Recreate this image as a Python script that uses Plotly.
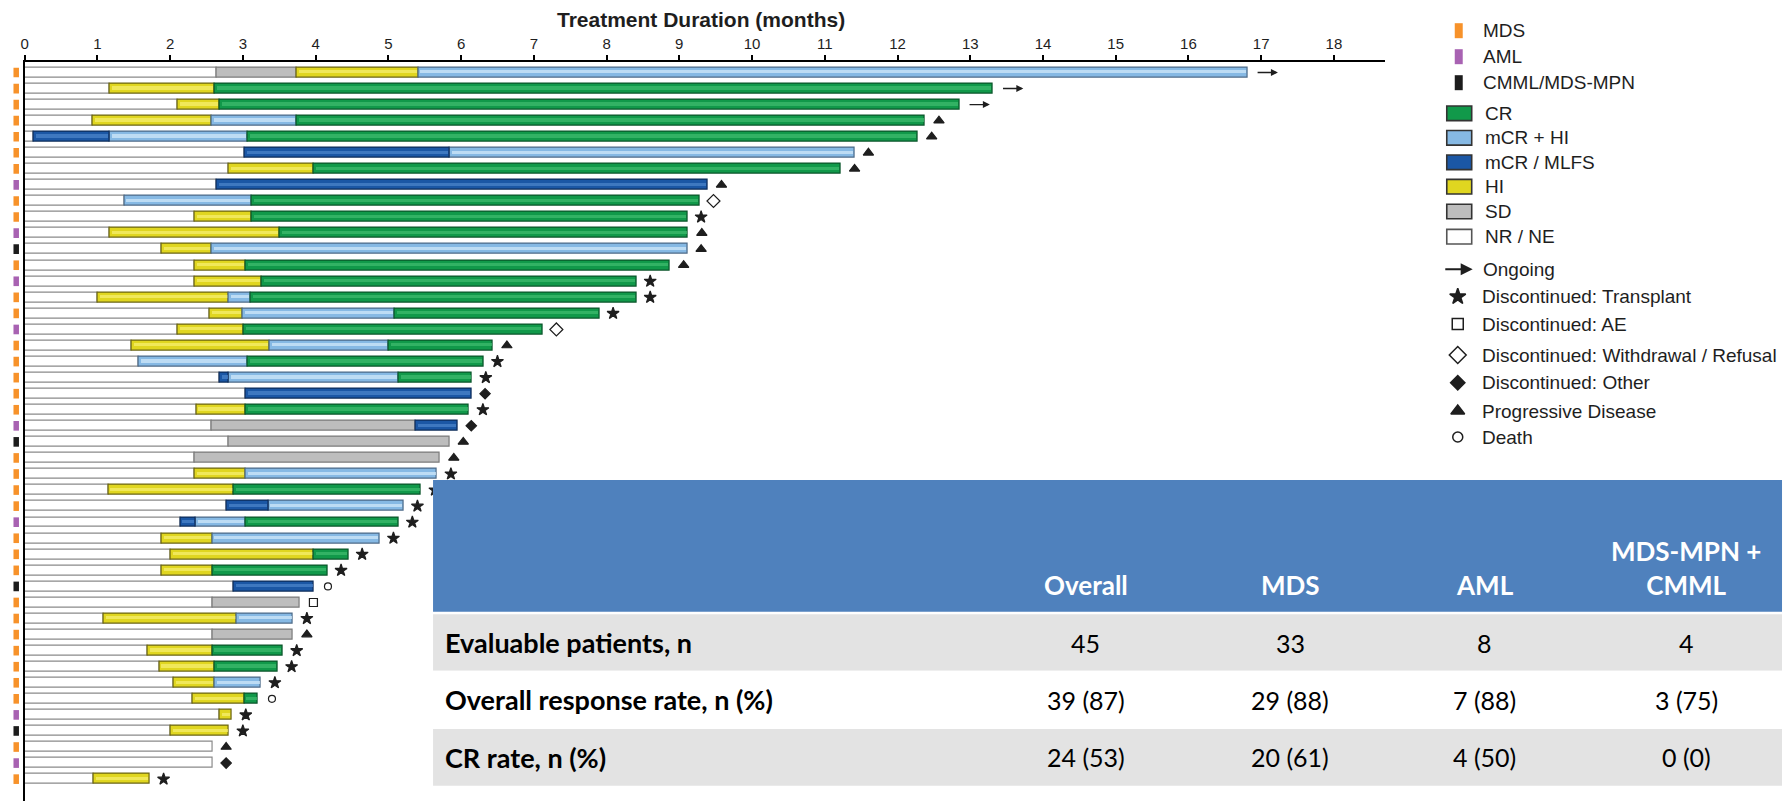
import plotly.graph_objects as go

W, H = 1791, 801

# ---------------------------------------------------------------- data
disease = [
    "MDS", "MDS", "MDS", "MDS", "MDS", "MDS", "MDS", "AML", "MDS", "MDS",
    "AML", "CMML", "MDS", "AML", "MDS", "MDS", "AML", "MDS", "MDS", "MDS",
    "MDS", "MDS", "AML", "CMML", "MDS", "MDS", "MDS", "MDS", "AML", "MDS",
    "MDS", "MDS", "CMML", "MDS", "MDS", "MDS", "MDS", "MDS", "MDS", "MDS",
    "AML", "CMML", "MDS", "AML", "MDS",
]

# response history per patient: (status, month at which that status ends)
timeline = [
    [("NR", 2.64), ("SD", 3.74), ("HI", 5.41), ("mCR+HI", 16.81)],
    [("NR", 1.17), ("HI", 2.61), ("CR", 13.31)],
    [("NR", 2.11), ("HI", 2.68), ("CR", 12.85)],
    [("NR", 0.94), ("HI", 2.57), ("mCR+HI", 3.74), ("CR", 12.38)],
    [("NR", 0.13), ("mCR/MLFS", 1.17), ("mCR+HI", 3.07), ("CR", 12.28)],
    [("NR", 3.03), ("mCR/MLFS", 5.84), ("mCR+HI", 11.41)],
    [("NR", 2.81), ("HI", 3.97), ("CR", 11.22)],
    [("NR", 2.64), ("mCR/MLFS", 9.39)],
    [("NR", 1.37), ("mCR+HI", 3.12), ("CR", 9.28)],
    [("NR", 2.34), ("HI", 3.12), ("CR", 9.11)],
    [("NR", 1.17), ("HI", 3.51), ("CR", 9.12)],
    [("NR", 1.88), ("HI", 2.57), ("mCR+HI", 9.11)],
    [("NR", 2.34), ("HI", 3.04), ("CR", 8.87)],
    [("NR", 2.34), ("HI", 3.26), ("CR", 8.41)],
    [("NR", 1.01), ("HI", 2.81), ("mCR+HI", 3.11), ("CR", 8.41)],
    [("NR", 2.54), ("HI", 3.00), ("mCR+HI", 5.09), ("CR", 7.90)],
    [("NR", 2.11), ("HI", 3.01), ("CR", 7.12)],
    [("NR", 1.47), ("HI", 3.37), ("mCR+HI", 5.00), ("CR", 6.44)],
    [("NR", 1.57), ("mCR+HI", 3.07), ("CR", 6.31)],
    [("NR", 2.68), ("mCR/MLFS", 2.81), ("mCR+HI", 5.14), ("CR", 6.15)],
    [("NR", 3.04), ("mCR/MLFS", 6.14)],
    [("NR", 2.36), ("HI", 3.04), ("CR", 6.11)],
    [("NR", 2.57), ("SD", 5.38), ("mCR/MLFS", 5.95)],
    [("NR", 2.81), ("SD", 5.84)],
    [("NR", 2.34), ("SD", 5.71)],
    [("NR", 2.34), ("HI", 3.04), ("mCR+HI", 5.67)],
    [("NR", 1.15), ("HI", 2.88), ("CR", 5.45)],
    [("NR", 2.78), ("mCR/MLFS", 3.35), ("mCR+HI", 5.21)],
    [("NR", 2.14), ("mCR/MLFS", 2.35), ("mCR+HI", 3.04), ("CR", 5.14)],
    [("NR", 1.88), ("HI", 2.58), ("mCR+HI", 4.88)],
    [("NR", 2.01), ("HI", 3.98), ("CR", 4.45)],
    [("NR", 1.88), ("HI", 2.58), ("CR", 4.16)],
    [("NR", 2.88), ("mCR/MLFS", 3.98)],
    [("NR", 2.58), ("SD", 3.78)],
    [("NR", 1.09), ("HI", 2.92), ("mCR+HI", 3.69)],
    [("NR", 2.58), ("SD", 3.69)],
    [("NR", 1.69), ("HI", 2.58), ("CR", 3.55)],
    [("NR", 1.85), ("HI", 2.61), ("CR", 3.48)],
    [("NR", 2.05), ("HI", 2.61), ("mCR+HI", 3.25)],
    [("NR", 2.31), ("HI", 3.02), ("CR", 3.21)],
    [("NR", 2.68), ("HI", 2.85)],
    [("NR", 2.01), ("HI", 2.81)],
    [("NR", 2.58)],
    [("NR", 2.58)],
    [("NR", 0.95), ("HI", 1.72)],
]

outcome = [
    "Ongoing", "Ongoing", "Ongoing", "PD", "PD", "PD", "PD", "PD", "Withdrawal", "Transplant",
    "PD", "PD", "PD", "Transplant", "Transplant", "Transplant", "Withdrawal", "PD", "Transplant", "Transplant",
    "Other", "Transplant", "Other", "PD", "PD", "Transplant", "Transplant", "Transplant", "Transplant", "Transplant",
    "Transplant", "Transplant", "Death", "AE", "Transplant", "PD", "Transplant", "Transplant", "Transplant", "Death",
    "Transplant", "Transplant", "PD", "Other", "Transplant",
]

x_ticks = list(range(0, 19))

table_columns = ["Overall", "MDS", "AML", "MDS-MPN +<br>CMML"]
table_rows = ["Evaluable patients, n", "Overall response rate, n (%)", "CR rate, n (%)"]
table_values = [
    ["45", "33", "8", "4"],
    ["39 (87)", "29 (88)", "7 (88)", "3 (75)"],
    ["24 (53)", "20 (61)", "4 (50)", "0 (0)"],
]

# ---------------------------------------------------------------- styles
DISEASE_STYLE = {
    "MDS": ("#F7922A", "MDS"),
    "AML": ("#A862B2", "AML"),
    "CMML": ("#1C1C1C", "CMML/MDS-MPN"),
}
STATUS_STYLE = {
    "CR": dict(fill="#11994A", edge="#0A552A", gloss="#3DBB6E", label="CR"),
    "mCR+HI": dict(fill="#86B9E4", edge="#4C6A88", gloss="#CFE8FA", label="mCR + HI"),
    "mCR/MLFS": dict(fill="#1B57A5", edge="#0D2C5A", gloss="#4B83C9", label="mCR / MLFS"),
    "HI": dict(fill="#E0D620", edge="#6B6512", gloss="#F5EE6E", label="HI"),
    "SD": dict(fill="#BDBDBD", edge="#7A7A7A", gloss=None, label="SD"),
    "NR": dict(fill="#FFFFFF", edge="#8A8A8A", gloss=None, label="NR / NE"),
}
OUTCOME_STYLE = {
    "Transplant": dict(symbol="star", size=9, label="Discontinued: Transplant"),
    "AE": dict(symbol="square-open", size=8, label="Discontinued: AE"),
    "Withdrawal": dict(symbol="diamond-open", size=10, label="Discontinued: Withdrawal / Refusal"),
    "Other": dict(symbol="diamond", size=8, label="Discontinued: Other"),
    "PD": dict(symbol="triangle-up", size=9, label="Progressive Disease"),
    "Death": dict(symbol="circle-open", size=7, label="Death"),
}
CHART_FONT = "Liberation Sans, Arial, sans-serif"
TABLE_FONT = "Lato, Open Sans, sans-serif"
INK = "#1E1E1E"

BAR_W = 0.62
MARK_GAP = 0.19

fig = go.Figure()

# ---------------------------------------------------------------- swimmer bars
seg = {k: dict(y=[], base=[], x=[]) for k in STATUS_STYLE}
for i, tl in enumerate(timeline):
    row = i + 1
    start = 0.0
    for status, end in tl:
        seg[status]["y"].append(row)
        seg[status]["base"].append(start)
        seg[status]["x"].append(end - start)
        start = end

for status in ["NR", "SD", "HI", "mCR+HI", "mCR/MLFS", "CR"]:
    st = STATUS_STYLE[status]
    d = seg[status]
    fig.add_trace(go.Bar(
        orientation="h", y=d["y"], x=d["x"], base=d["base"], width=BAR_W,
        marker=dict(color=st["fill"], line=dict(color=st["edge"], width=1.2)),
        showlegend=False, hoverinfo="skip",
    ))
    if st["gloss"]:
        inset = 0.025
        fig.add_trace(go.Bar(
            orientation="h", y=d["y"],
            x=[max(v - 2 * inset, 0) for v in d["x"]],
            base=[b + inset for b in d["base"]],
            width=0.2, offset=-0.16,
            marker=dict(color=st["gloss"], line=dict(width=0), opacity=0.75),
            showlegend=False, hoverinfo="skip",
        ))

# ---------------------------------------------------------------- end-of-treatment symbols
end_month = [tl[-1][1] for tl in timeline]
for key, st in OUTCOME_STYLE.items():
    rows = [i + 1 for i, o in enumerate(outcome) if o == key]
    xs = [end_month[r - 1] + MARK_GAP for r in rows]
    fig.add_trace(go.Scatter(
        x=xs, y=rows, mode="markers",
        marker=dict(symbol=st["symbol"], size=st["size"], color=INK,
                    line=dict(color=INK, width=1.2)),
        showlegend=False, hoverinfo="skip",
    ))

annotations = []
for i, o in enumerate(outcome):
    if o == "Ongoing":
        annotations.append(dict(
            x=end_month[i] + 0.42, y=i + 1, ax=end_month[i] + 0.12, ay=i + 1,
            xref="x", yref="y", axref="x", ayref="y",
            showarrow=True, arrowhead=2, arrowsize=1.0, arrowwidth=1.4,
            arrowcolor=INK, text="",
        ))

# ---------------------------------------------------------------- disease strips
shapes = []
for i, dz in enumerate(disease):
    shapes.append(dict(
        type="rect", xref="paper", yref="y",
        x0=9.5 / W, x1=15 / W, y0=i + 1 - 0.3, y1=i + 1 + 0.3,
        fillcolor=DISEASE_STYLE[dz][0], line=dict(width=0), layer="above",
    ))

# ---------------------------------------------------------------- pixel helpers (x2/y2 span the page)
def box(x0, y0, x1, y1, fill, edge=None, lw=0):
    shapes.append(dict(type="rect", xref="x2", yref="y2", x0=x0, x1=x1, y0=y0, y1=y1,
                       fillcolor=fill, line=dict(color=edge or fill, width=lw), layer="above"))


def label(x, y, text, size, color=INK, family=CHART_FONT, xanchor="left", bold=False):
    annotations.append(dict(
        x=x, y=y, xref="x2", yref="y2", text=f"<b>{text}</b>" if bold else text,
        showarrow=False, xanchor=xanchor, yanchor="middle",
        font=dict(family=family, size=size, color=color),
    ))

# title
label(699, 19, "Treatment Duration (months)", 21, bold=True, xanchor="center")

# ---------------------------------------------------------------- legend
LEG_TXT = 19
for (key, y) in zip(["MDS", "AML", "CMML"], [30.7, 56.7, 82.7]):
    col, txt = DISEASE_STYLE[key]
    box(1454, y - 7.5, 1462, y + 7.5, col)
    label(1480, y, txt, LEG_TXT)

for key, y in zip(["CR", "mCR+HI", "mCR/MLFS", "HI", "SD", "NR"],
                  [113.3, 137.8, 162.3, 186.7, 211.5, 236.7]):
    st = STATUS_STYLE[key]
    edge = "#333333" if key != "NR" else "#555555"
    box(1446, y - 7.3, 1471, y + 7.3, st["fill"], edge, 1.6)
    label(1482, y, st["label"], LEG_TXT)

annotations.append(dict(
    x=1472, y=269.3, ax=1443, ay=269.3, xref="x2", yref="y2", axref="x2", ayref="y2",
    showarrow=True, arrowhead=2, arrowsize=1.2, arrowwidth=2, arrowcolor=INK, text="",
))
label(1480, 269.3, "Ongoing", LEG_TXT)

leg_y = [296.7, 324.0, 355.0, 382.7, 411.0, 437.0]
for (key, st), y in zip(OUTCOME_STYLE.items(), leg_y):
    fig.add_trace(go.Scatter(
        x=[1457], y=[y], xaxis="x2", yaxis="y2", mode="markers",
        marker=dict(symbol=st["symbol"], size=st["size"] + 3, color=INK,
                    line=dict(color=INK, width=1.5)),
        showlegend=False, hoverinfo="skip",
    ))
    label(1479, y, st["label"], LEG_TXT)

# ---------------------------------------------------------------- summary table
TX0, TX1 = 430, 1782
box(TX0, 480, TX1, 786, "#FFFFFF")
box(TX0, 480, TX1, 611.7, "#4F81BD")
row_bands = [(614.3, 670.7), (670.7, 729.0), (729.0, 785.7)]
row_fill = ["#E3E3E3", "#FFFFFF", "#E3E3E3"]
for (y0, y1), f in zip(row_bands, row_fill):
    box(TX0, y0, TX1, y1, f)

col_x = [1084, 1289, 1484, 1686]
TBL_SIZE = 25
for cx, name in zip(col_x, table_columns):
    annotations.append(dict(
        x=cx, y=603, xref="x2", yref="y2", text=f"<b>{name}</b>",
        showarrow=False, xanchor="center", yanchor="bottom", align="center",
        font=dict(family=TABLE_FONT, size=TBL_SIZE + 1, color="#FFFFFF"),
    ))
for (y0, y1), rname, vals in zip(row_bands, table_rows, table_values):
    yc = (y0 + y1) / 2
    label(440, yc, rname, TBL_SIZE + 2, color="#000000", family=TABLE_FONT, bold=True)
    for cx, v in zip(col_x, vals):
        label(cx, yc, v, TBL_SIZE, color="#000000", family=TABLE_FONT, xanchor="center")

# ---------------------------------------------------------------- axes / layout
x_lo, x_hi = 20.7, 1383.7
px_per_month = 72.9
row0_px, row_step = 72.5, 16.06
axis_top = 61.7

fig.update_layout(
    width=W, height=H, autosize=False,
    margin=dict(l=0, r=0, t=0, b=0),
    paper_bgcolor="#FFFFFF", plot_bgcolor="rgba(0,0,0,0)",
    barmode="overlay", bargap=0,
    showlegend=False,
    font=dict(family=CHART_FONT, color=INK),
    xaxis=dict(
        domain=[x_lo / W, x_hi / W], range=[0, (x_hi - x_lo) / px_per_month],
        side="top", anchor="y", tickvals=x_ticks, ticks="outside", ticklen=5,
        tickwidth=1.5, tickcolor="#000000", showline=True, linewidth=2, linecolor="#000000",
        showgrid=False, zeroline=False, tickfont=dict(size=15, color=INK, family=CHART_FONT),
        fixedrange=True,
    ),
    yaxis=dict(
        domain=[0, 1 - axis_top / H],
        range=[1 + (H - row0_px) / row_step, 1 - (row0_px - axis_top) / row_step],
        showline=True, linewidth=2, linecolor="#000000", showticklabels=False,
        ticks="", showgrid=False, zeroline=False, fixedrange=True,
    ),
    xaxis2=dict(domain=[0, 1], range=[0, W], anchor="y2", visible=False, fixedrange=True),
    yaxis2=dict(domain=[0, 1], range=[H, 0], anchor="x2", visible=False, fixedrange=True),
    shapes=shapes,
    annotations=annotations,
)

fig.write_html("out.html")
